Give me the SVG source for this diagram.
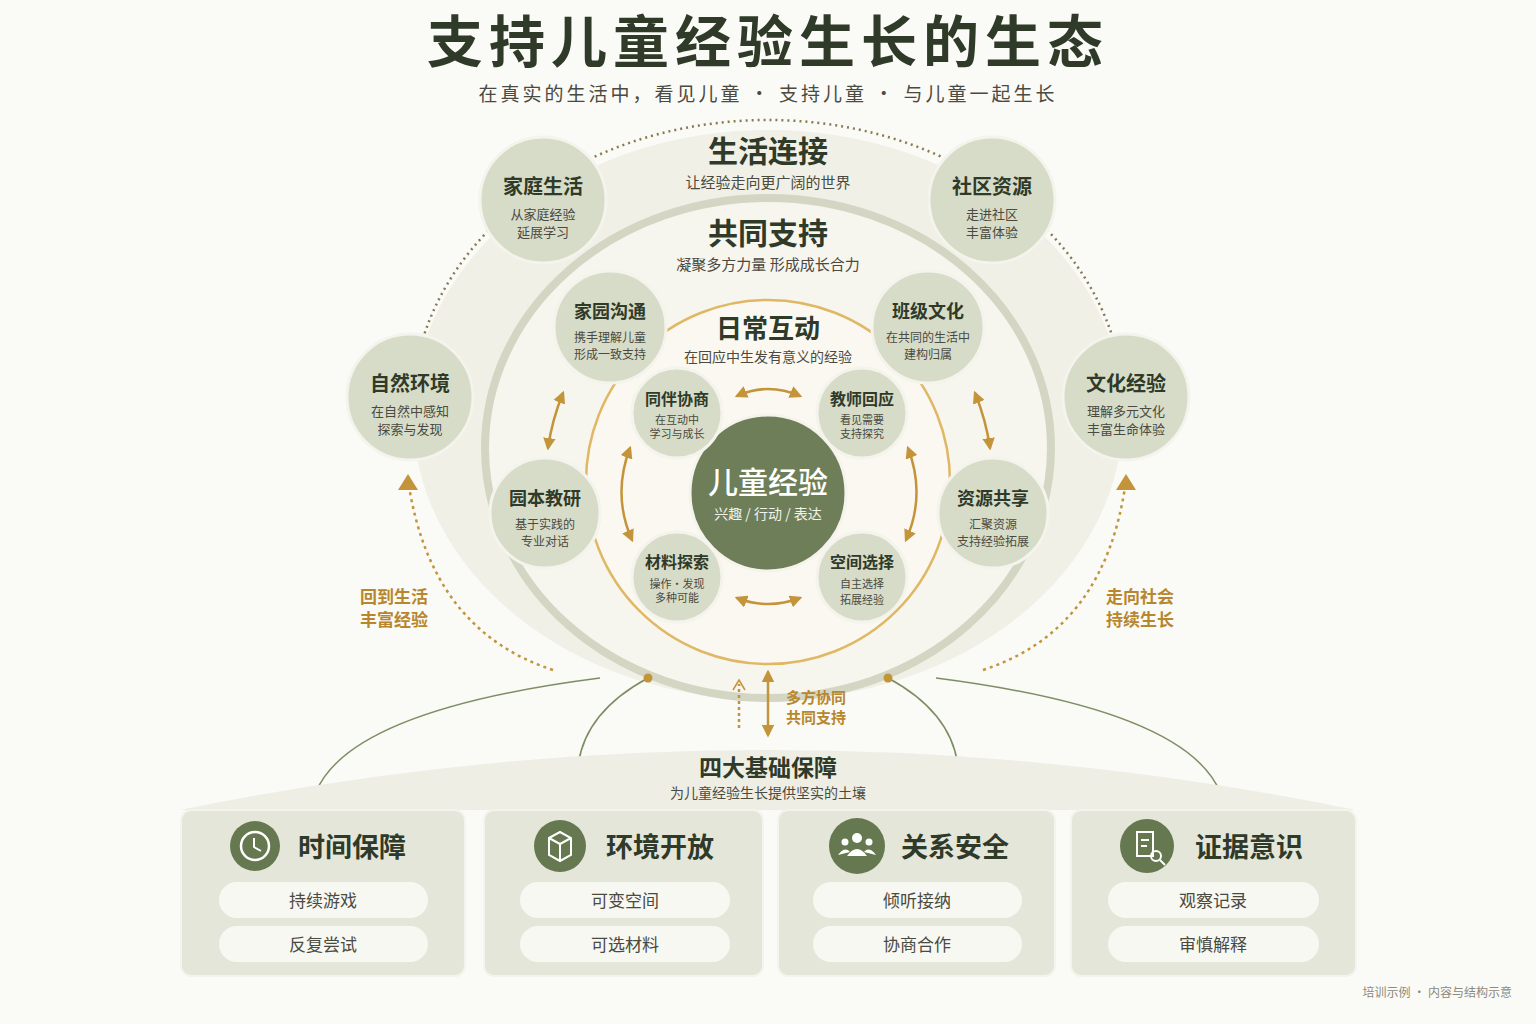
<svg xmlns="http://www.w3.org/2000/svg" width="1536" height="1024" viewBox="0 0 1536 1024">
<defs>
<style>
.t{font-family:"Noto Sans CJK SC","Noto Sans CJK JP",sans-serif;text-anchor:middle}
.h{font-weight:700;fill:#2f3a28}
.s{fill:#4a4a40}
.g{fill:#b8862c;font-weight:700}
.node{fill:#d7dcc9;stroke:#f4f3ec;stroke-width:3}
.arr{fill:none;stroke:#c39439;stroke-width:2.5}
.card{fill:#e5e6da;stroke:#f4f4ee;stroke-width:2}
.pill{fill:#f8f8f3}
.ln{fill:none;stroke:#7d8e62;stroke-width:1.5}
</style>
<marker id="ah" viewBox="0 0 10 10" refX="8" refY="5" markerWidth="5" markerHeight="5" orient="auto-start-reverse"><path d="M0,0L10,5L0,10z" fill="#c39439"/></marker>
</defs>
<rect width="1536" height="1024" fill="#fafaf7"/>
<text class="t h" x="768" y="62" font-size="56" letter-spacing="6">支持儿童经验生长的生态</text>
<text class="t s" x="768" y="101" font-size="19" letter-spacing="3">在真实的生活中，看见儿童 · 支持儿童 · 与儿童一起生长</text>

<g id="rings">
<ellipse cx="768" cy="415" rx="355" ry="285" fill="#f1f0e6"/>
<path d="M412,410 A356,290 0 0 1 1124,410" fill="none" stroke="#8a7a50" stroke-width="2.5" stroke-dasharray="2,4"/>
<ellipse cx="768" cy="448" rx="283" ry="250" fill="#f6f5ee" stroke="#d2d6c3" stroke-width="8"/>
<circle cx="768" cy="482" r="182" fill="#faf8f1" stroke="#e0b865" stroke-width="2.5"/>
<text class="t h" x="768" y="162" font-size="30">生活连接</text>
<text class="t s" x="768" y="188" font-size="15">让经验走向更广阔的世界</text>
<text class="t h" x="768" y="244" font-size="30">共同支持</text>
<text class="t s" x="768" y="270" font-size="15">凝聚多方力量 形成成长合力</text>
<text class="t h" x="768" y="338" font-size="26">日常互动</text>
<text class="t s" x="768" y="362" font-size="14">在回应中生发有意义的经验</text>
</g>

<g id="connectors">
<path class="arr" d="M737,396 Q768,382 800,396" marker-start="url(#ah)" marker-end="url(#ah)"/>
<path class="arr" d="M737,598 Q768,610 800,598" marker-start="url(#ah)" marker-end="url(#ah)"/>
<path class="arr" d="M630,448 Q612,495 632,540" marker-start="url(#ah)" marker-end="url(#ah)"/>
<path class="arr" d="M908,448 Q926,495 906,540" marker-start="url(#ah)" marker-end="url(#ah)"/>
<path class="arr" d="M563,393 Q552,420 548,448" marker-start="url(#ah)" marker-end="url(#ah)"/>
<path class="arr" d="M975,393 Q986,420 990,448" marker-start="url(#ah)" marker-end="url(#ah)"/>
<path class="arr" d="M553,670 Q430,630 408,480" stroke-dasharray="3,4" stroke-width="2"/>
<path d="M398,490 L408,474 L418,490z" fill="#c39439"/>
<path class="arr" d="M983,670 Q1106,630 1126,480" stroke-dasharray="3,4" stroke-width="2"/>
<path d="M1116,490 L1126,474 L1136,490z" fill="#c39439"/>
<path class="arr" d="M768,672 L768,735" marker-start="url(#ah)" marker-end="url(#ah)"/>
<path class="arr" d="M739,728 L739,684" stroke-dasharray="3,3" stroke-width="1.5"/>
<path d="M733,690 L739,680 L745,690" fill="none" stroke="#c39439" stroke-width="1.5"/>
<path class="ln" d="M316,792 Q350,710 600,678"/>
<path class="ln" d="M578,792 Q570,720 648,678"/>
<path class="ln" d="M958,792 Q966,720 888,678"/>
<path class="ln" d="M1220,792 Q1186,710 936,678"/>
<g fill="#c39439"><circle cx="316" cy="792" r="4.5"/><circle cx="578" cy="792" r="4.5"/><circle cx="958" cy="792" r="4.5"/><circle cx="1220" cy="792" r="4.5"/><circle cx="648" cy="678" r="4.5"/><circle cx="888" cy="678" r="4.5"/></g>
<text class="t g" x="394" y="603" font-size="17">回到生活</text>
<text class="t g" x="394" y="626" font-size="17">丰富经验</text>
<text class="t g" x="1140" y="603" font-size="17">走向社会</text>
<text class="t g" x="1140" y="626" font-size="17">持续生长</text>
<text class="g" x="786" y="703" font-size="15" font-family="Noto Sans CJK SC,sans-serif">多方协同</text>
<text class="g" x="786" y="723" font-size="15" font-family="Noto Sans CJK SC,sans-serif">共同支持</text>
</g>

<g id="center"><circle cx="768" cy="493" r="78" fill="#6e7e58" stroke="#f4f3ec" stroke-width="3"/>
<text class="t" x="768" y="493" font-size="30" fill="#fff" font-weight="500">儿童经验</text>
<text class="t" x="768" y="519" font-size="14" fill="#f2f2ea">兴趣 / 行动 / 表达</text></g>

<g id="n-tongban"><circle class="node" cx="677" cy="413" r="45"/><text class="t h" x="677" y="405" font-size="16">同伴协商</text><text class="t s" x="677" y="424" font-size="11">在互动中</text><text class="t s" x="677" y="438" font-size="11">学习与成长</text></g>
<g id="n-jiaoshi"><circle class="node" cx="862" cy="413" r="45"/><text class="t h" x="862" y="405" font-size="16">教师回应</text><text class="t s" x="862" y="424" font-size="11">看见需要</text><text class="t s" x="862" y="438" font-size="11">支持探究</text></g>
<g id="n-cailiao"><circle class="node" cx="677" cy="577" r="45"/><text class="t h" x="677" y="568" font-size="16">材料探索</text><text class="t s" x="677" y="588" font-size="11">操作·发现</text><text class="t s" x="677" y="602" font-size="11">多种可能</text></g>
<g id="n-kongjian"><circle class="node" cx="862" cy="577" r="45"/><text class="t h" x="862" y="568" font-size="16">空间选择</text><text class="t s" x="862" y="588" font-size="11">自主选择</text><text class="t s" x="862" y="604" font-size="11">拓展经验</text></g>

<g id="n-jiayuan"><circle class="node" cx="610" cy="327" r="56"/><text class="t h" x="610" y="318" font-size="18">家园沟通</text><text class="t s" x="610" y="342" font-size="12">携手理解儿童</text><text class="t s" x="610" y="359" font-size="12">形成一致支持</text></g>
<g id="n-banji"><circle class="node" cx="928" cy="327" r="56"/><text class="t h" x="928" y="318" font-size="18">班级文化</text><text class="t s" x="928" y="342" font-size="12">在共同的生活中</text><text class="t s" x="928" y="359" font-size="12">建构归属</text></g>
<g id="n-yuanben"><circle class="node" cx="545" cy="513" r="55"/><text class="t h" x="545" y="505" font-size="18">园本教研</text><text class="t s" x="545" y="529" font-size="12">基于实践的</text><text class="t s" x="545" y="546" font-size="12">专业对话</text></g>
<g id="n-ziyuan"><circle class="node" cx="993" cy="513" r="55"/><text class="t h" x="993" y="505" font-size="18">资源共享</text><text class="t s" x="993" y="529" font-size="12">汇聚资源</text><text class="t s" x="993" y="546" font-size="12">支持经验拓展</text></g>

<g id="n-jiating"><circle class="node" cx="543" cy="200" r="63"/><text class="t h" x="543" y="194" font-size="20">家庭生活</text><text class="t s" x="543" y="219" font-size="13">从家庭经验</text><text class="t s" x="543" y="237" font-size="13">延展学习</text></g>
<g id="n-shequ"><circle class="node" cx="992" cy="200" r="63"/><text class="t h" x="992" y="194" font-size="20">社区资源</text><text class="t s" x="992" y="219" font-size="13">走进社区</text><text class="t s" x="992" y="237" font-size="13">丰富体验</text></g>
<g id="n-ziran"><circle class="node" cx="410" cy="397" r="63"/><text class="t h" x="410" y="391" font-size="20">自然环境</text><text class="t s" x="410" y="416" font-size="13">在自然中感知</text><text class="t s" x="410" y="434" font-size="13">探索与发现</text></g>
<g id="n-wenhua"><circle class="node" cx="1126" cy="397" r="63"/><text class="t h" x="1126" y="391" font-size="20">文化经验</text><text class="t s" x="1126" y="416" font-size="13">理解多元文化</text><text class="t s" x="1126" y="434" font-size="13">丰富生命体验</text></g>

<g id="base">
<path d="M180,810 Q768,690 1356,810 Z" fill="#eeeee4"/>
<text class="t h" x="768" y="776" font-size="23">四大基础保障</text>
<text class="t s" x="768" y="798" font-size="14">为儿童经验生长提供坚实的土壤</text>
</g>

<g id="card1"><rect class="card" x="181" y="810" width="284" height="166" rx="10"/><circle cx="255" cy="846" r="25" fill="#66784f"/><circle cx="255" cy="846" r="14" fill="none" stroke="#fff" stroke-width="2.5"/><path d="M254,838 V847 L261,851" fill="none" stroke="#fff" stroke-width="2"/><text class="h" x="298" y="857" font-size="27" font-family="Noto Sans CJK SC,sans-serif">时间保障</text><rect class="pill" x="219" y="882" width="209" height="36" rx="18"/><text class="t s" x="323" y="907" font-size="17">持续游戏</text><rect class="pill" x="219" y="926" width="209" height="36" rx="18"/><text class="t s" x="323" y="951" font-size="17">反复尝试</text></g>
<g id="card2"><rect class="card" x="484" y="810" width="279" height="166" rx="10"/><circle cx="560" cy="846" r="26" fill="#66784f"/><path d="M549,838 L560,832 L571,838 V855 L560,861 L549,855 Z M549,838 L560,844 L571,838 M560,844 V861" fill="none" stroke="#fff" stroke-width="2"/><text class="h" x="606" y="857" font-size="27" font-family="Noto Sans CJK SC,sans-serif">环境开放</text><rect class="pill" x="520" y="882" width="210" height="36" rx="18"/><text class="t s" x="625" y="907" font-size="17">可变空间</text><rect class="pill" x="520" y="926" width="210" height="36" rx="18"/><text class="t s" x="625" y="951" font-size="17">可选材料</text></g>
<g id="card3"><rect class="card" x="778" y="810" width="277" height="166" rx="10"/><circle cx="857" cy="846" r="28" fill="#66784f"/><g fill="#fff"><circle cx="857" cy="838" r="5"/><path d="M847,856 Q857,842 867,856Z"/><circle cx="845" cy="842" r="3.5"/><circle cx="869" cy="842" r="3.5"/><path d="M838,855 Q845,846 850,852Z M876,855 Q869,846 864,852Z"/></g><text class="h" x="901" y="857" font-size="27" font-family="Noto Sans CJK SC,sans-serif">关系安全</text><rect class="pill" x="813" y="882" width="209" height="36" rx="18"/><text class="t s" x="917" y="907" font-size="17">倾听接纳</text><rect class="pill" x="813" y="926" width="209" height="36" rx="18"/><text class="t s" x="917" y="951" font-size="17">协商合作</text></g>
<g id="card4"><rect class="card" x="1071" y="810" width="285" height="166" rx="10"/><circle cx="1147" cy="846" r="27" fill="#66784f"/><path d="M1137,832 H1153 V856 H1137 Z M1141,840 H1149 M1141,846 H1147" fill="none" stroke="#fff" stroke-width="2"/><circle cx="1156" cy="856" r="5" fill="none" stroke="#fff" stroke-width="2"/><path d="M1160,860 L1165,865" stroke="#fff" stroke-width="2"/><text class="h" x="1195" y="857" font-size="27" font-family="Noto Sans CJK SC,sans-serif">证据意识</text><rect class="pill" x="1108" y="882" width="211" height="36" rx="18"/><text class="t s" x="1213" y="907" font-size="17">观察记录</text><rect class="pill" x="1108" y="926" width="211" height="36" rx="18"/><text class="t s" x="1213" y="951" font-size="17">审慎解释</text></g>
<text x="1512" y="997" font-size="12" fill="#8a8a80" text-anchor="end" font-family="Noto Sans CJK SC,sans-serif">培训示例 · 内容与结构示意</text>
</svg>
